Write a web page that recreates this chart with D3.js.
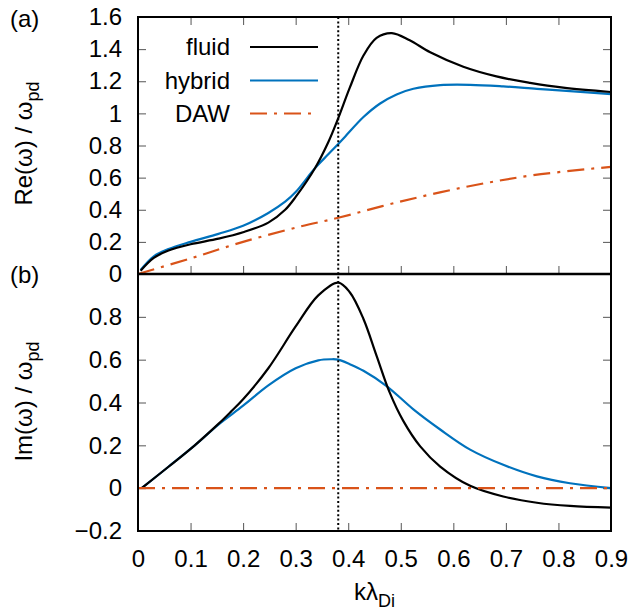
<!DOCTYPE html>
<html>
<head>
<meta charset="utf-8">
<script src="https://cdn.jsdelivr.net/npm/d3@7"></script>
<style>
  body { margin: 0; background: #fff; }
  svg { font-family: "Liberation Sans", Arial, Helvetica, sans-serif; }
</style>
</head>
<body>
<div id="chart"></div>
<script>
// x values (k lambda_Di) and curves
var kFluidRe = [0.005, 0.03, 0.058, 0.1, 0.153, 0.2, 0.248, 0.28, 0.3, 0.337, 0.362, 0.381, 0.403, 0.429, 0.454, 0.483, 0.517, 0.556, 0.619, 0.682, 0.746, 0.809, 0.9];
var fluidRe  = [0.02, 0.10, 0.146, 0.185, 0.22, 0.26, 0.32, 0.40, 0.48, 0.66, 0.82, 0.97, 1.16, 1.36, 1.47, 1.50, 1.455, 1.38, 1.29, 1.23, 1.19, 1.16, 1.133];

var kHybridRe = [0.005, 0.03, 0.058, 0.1, 0.153, 0.2, 0.248, 0.28, 0.3, 0.337, 0.362, 0.381, 0.394, 0.429, 0.46, 0.492, 0.524, 0.575, 0.632, 0.695, 0.759, 0.822, 0.9];
var hybridRe  = [0.025, 0.11, 0.155, 0.20, 0.25, 0.30, 0.38, 0.45, 0.51, 0.66, 0.745, 0.81, 0.855, 0.977, 1.06, 1.118, 1.153, 1.176, 1.178, 1.168, 1.153, 1.139, 1.12];

var kDawRe = [0, 0.1, 0.2, 0.308, 0.381, 0.498, 0.625, 0.752, 0.9];
var dawRe  = [0, 0.097, 0.2, 0.295, 0.35, 0.45, 0.543, 0.615, 0.667];

var kFluidIm = [0.007, 0.058, 0.108, 0.153, 0.176, 0.2, 0.248, 0.3, 0.343, 0.381, 0.403, 0.429, 0.454, 0.479, 0.505, 0.537, 0.575, 0.632, 0.695, 0.759, 0.822, 0.9];
var fluidIm  = [0, 0.10, 0.20, 0.30, 0.355, 0.415, 0.56, 0.755, 0.90, 0.960, 0.915, 0.79, 0.618, 0.446, 0.313, 0.195, 0.101, 0.011, -0.039, -0.068, -0.083, -0.091];

var kHybridIm = [0.007, 0.058, 0.108, 0.153, 0.2, 0.248, 0.3, 0.343, 0.368, 0.381, 0.403, 0.429, 0.473, 0.524, 0.575, 0.632, 0.695, 0.759, 0.822, 0.9];
var hybridIm  = [0, 0.10, 0.20, 0.297, 0.385, 0.48, 0.56, 0.597, 0.602, 0.60, 0.579, 0.548, 0.477, 0.368, 0.274, 0.18, 0.109, 0.055, 0.023, 0];

var kDawIm = [0, 0.9];
var dawIm  = [0, 0];

var kMarker = 0.381;

var xTicks = [0, 0.1, 0.2, 0.3, 0.4, 0.5, 0.6, 0.7, 0.8, 0.9];
var xTickLabels = ["0", "0.1", "0.2", "0.3", "0.4", "0.5", "0.6", "0.7", "0.8", "0.9"];
var reTicks = [0, 0.2, 0.4, 0.6, 0.8, 1, 1.2, 1.4, 1.6];
var reTickLabels = ["0", "0.2", "0.4", "0.6", "0.8", "1", "1.2", "1.4", "1.6"];
var imTicks = [-0.2, 0, 0.2, 0.4, 0.6, 0.8];
var imTickLabels = ["\u22120.2", "0", "0.2", "0.4", "0.6", "0.8"];

var seriesNames = ["fluid", "hybrid", "DAW"];
var seriesColors = ["#000000", "#0072bd", "#d95319"];

function zip(ks, vs) { return ks.map(function(k, i) { return [k, vs[i]]; }); }

function draw() {
  var W = 628, H = 613;
  var left = 138, right = 611, top = 17, mid = 274, bottom = 531;
  var fs = 24;

  var svg = d3.select("#chart").append("svg")
      .attr("width", W).attr("height", H);

  var x = d3.scaleLinear().domain([0, 0.9]).range([left, right]);
  var yRe = d3.scaleLinear().domain([0, 1.6]).range([mid, top]);
  var yIm = d3.scaleLinear().domain([-0.2, 1.0]).range([bottom, mid]);

  function tickAxis(g) {
    g.select(".domain").remove();
    g.selectAll(".tick line").attr("stroke", "#555").attr("stroke-width", 1);
    g.selectAll("text").attr("fill", "#000").style("font-size", fs + "px");
  }

  // x ticks: top of panel a, shared middle line, bottom of panel b
  svg.append("g").attr("transform", "translate(0," + top + ")")
      .call(d3.axisTop(x).tickValues(xTicks).tickSize(-8).tickFormat(""))
      .call(tickAxis);
  svg.append("g").attr("transform", "translate(0," + mid + ")")
      .call(d3.axisBottom(x).tickValues(xTicks).tickSize(-8).tickFormat(""))
      .call(tickAxis);
  svg.append("g").attr("transform", "translate(0," + bottom + ")")
      .call(d3.axisBottom(x).tickValues(xTicks).tickSize(-8).tickPadding(19)
        .tickFormat(function(d, i) { return xTickLabels[i]; }))
      .call(tickAxis);

  // y ticks
  svg.append("g").attr("transform", "translate(" + left + ",0)")
      .call(d3.axisLeft(yRe).tickValues(reTicks).tickSize(-8).tickPadding(16)
        .tickFormat(function(d, i) { return reTickLabels[i]; }))
      .call(tickAxis);
  svg.append("g").attr("transform", "translate(" + right + ",0)")
      .call(d3.axisRight(yRe).tickValues(reTicks).tickSize(-8).tickFormat(""))
      .call(tickAxis);
  svg.append("g").attr("transform", "translate(" + left + ",0)")
      .call(d3.axisLeft(yIm).tickValues(imTicks).tickSize(-8).tickPadding(16)
        .tickFormat(function(d, i) { return imTickLabels[i]; }))
      .call(tickAxis);
  svg.append("g").attr("transform", "translate(" + right + ",0)")
      .call(d3.axisRight(yIm).tickValues(imTicks.concat([1.0])).tickSize(-8).tickFormat(""))
      .call(tickAxis);

  // curves
  var lineRe = d3.line().x(function(d) { return x(d[0]); }).y(function(d) { return yRe(d[1]); })
      .curve(d3.curveCatmullRom.alpha(0.5));
  var lineIm = d3.line().x(function(d) { return x(d[0]); }).y(function(d) { return yIm(d[1]); })
      .curve(d3.curveCatmullRom.alpha(0.5));

  var dash = "17,7,3,7";

  svg.append("path").datum(zip(kDawRe, dawRe)).attr("d", lineRe)
      .attr("fill", "none").attr("stroke", seriesColors[2]).attr("stroke-width", 2.2)
      .attr("stroke-dasharray", dash);
  svg.append("path").datum(zip(kHybridRe, hybridRe)).attr("d", lineRe)
      .attr("fill", "none").attr("stroke", seriesColors[1]).attr("stroke-width", 2.2);
  svg.append("path").datum(zip(kFluidRe, fluidRe)).attr("d", lineRe)
      .attr("fill", "none").attr("stroke", seriesColors[0]).attr("stroke-width", 2.2);

  svg.append("path").datum(zip(kHybridIm, hybridIm)).attr("d", lineIm)
      .attr("fill", "none").attr("stroke", seriesColors[1]).attr("stroke-width", 2.2);
  svg.append("path").datum(zip(kFluidIm, fluidIm)).attr("d", lineIm)
      .attr("fill", "none").attr("stroke", seriesColors[0]).attr("stroke-width", 2.2);
  svg.append("path").datum(zip(kDawIm, dawIm)).attr("d", lineIm)
      .attr("fill", "none").attr("stroke", seriesColors[2]).attr("stroke-width", 2.2)
      .attr("stroke-dasharray", dash);

  // dotted marker at the growth-rate maximum
  svg.append("line")
      .attr("x1", x(kMarker)).attr("x2", x(kMarker))
      .attr("y1", top).attr("y2", bottom)
      .attr("stroke", "#000").attr("stroke-width", 2)
      .attr("stroke-dasharray", "2,2.4");

  // frame
  svg.append("rect")
      .attr("x", left).attr("y", top)
      .attr("width", right - left).attr("height", bottom - top)
      .attr("fill", "none").attr("stroke", "#000").attr("stroke-width", 2);
  svg.append("line")
      .attr("x1", left).attr("x2", right).attr("y1", mid).attr("y2", mid)
      .attr("stroke", "#000").attr("stroke-width", 2.5);

  // legend
  var legY = [47, 80.5, 113.5];
  var leg = svg.append("g").selectAll("g").data(seriesNames).enter().append("g");
  leg.append("text")
      .attr("x", 230).attr("y", function(d, i) { return legY[i]; })
      .attr("dy", "0.35em").attr("text-anchor", "end")
      .style("font-size", fs + "px").text(function(d) { return d; });
  leg.append("line")
      .attr("x1", 250).attr("x2", 318)
      .attr("y1", function(d, i) { return legY[i]; })
      .attr("y2", function(d, i) { return legY[i]; })
      .attr("stroke", function(d, i) { return seriesColors[i]; })
      .attr("stroke-width", 2.2)
      .attr("stroke-dasharray", function(d, i) { return i == 2 ? dash : null; });

  // panel letters
  svg.append("text").attr("x", 10).attr("y", 27).style("font-size", fs + "px").text("(a)");
  svg.append("text").attr("x", 10).attr("y", 283).style("font-size", fs + "px").text("(b)");

  // axis titles
  var t1 = svg.append("text")
      .attr("transform", "translate(31.5," + ((top + mid) / 2 - 2) + ") rotate(-90)")
      .attr("text-anchor", "middle").style("font-size", fs + "px");
  t1.append("tspan").text("Re(\u03c9) / \u03c9");
  t1.append("tspan").attr("dy", 7).style("font-size", "18px").text("pd");

  var t2 = svg.append("text")
      .attr("transform", "translate(31.5," + ((mid + bottom) / 2 - 1) + ") rotate(-90)")
      .attr("text-anchor", "middle").style("font-size", fs + "px");
  t2.append("tspan").text("Im(\u03c9) / \u03c9");
  t2.append("tspan").attr("dy", 7).style("font-size", "18px").text("pd");

  var t3 = svg.append("text")
      .attr("x", (left + right) / 2).attr("y", 600)
      .attr("text-anchor", "middle").style("font-size", fs + "px");
  t3.append("tspan").text("k\u03bb");
  t3.append("tspan").attr("dy", 7).style("font-size", "18px").text("Di");
}

draw();
</script>
</body>
</html>
